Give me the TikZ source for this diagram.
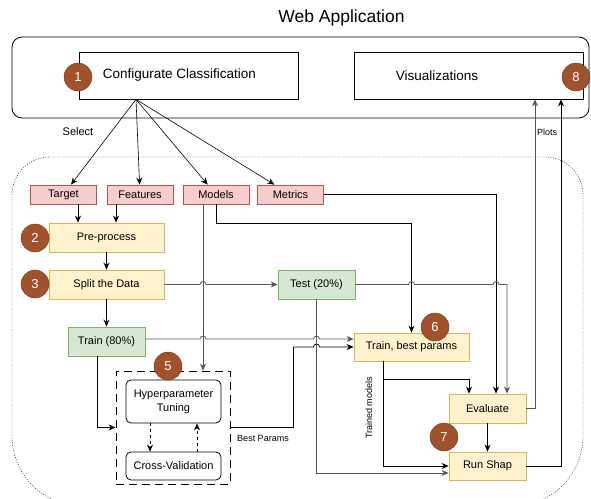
\documentclass[tikz,border=0pt]{standalone}
\usepackage{fontspec}
\setmainfont{Liberation Sans}
\usetikzlibrary{arrows.meta}

\definecolor{redfill}{HTML}{F8CECC}
\definecolor{redline}{HTML}{B85450}
\definecolor{yelfill}{HTML}{FFF2CC}
\definecolor{yelline}{HTML}{D6B656}
\definecolor{grnfill}{HTML}{D5E8D4}
\definecolor{grnline}{HTML}{82B366}
\definecolor{stepfill}{HTML}{A0522D}
\definecolor{stepline}{HTML}{7A3516}
\definecolor{wire}{HTML}{555555}

\newcommand{\fs}[2]{\fontsize{#1}{#2}\selectfont}

\tikzset{
  box/.style={draw, line width=0.8pt, inner sep=0pt, font=\fs{11}{14}},
  pick/.style={box, fill=redfill, draw=redline, minimum width=66pt, minimum height=19pt},
  task/.style={box, fill=yelfill, draw=yelline, minimum height=29pt},
  part/.style={box, fill=grnfill, draw=grnline, minimum width=77pt, minimum height=29pt},
  panel/.style={draw, line width=0.8pt, minimum width=229pt, minimum height=47pt, inner sep=0pt, font=\fs{13.5}{16}},
  badge/.style={circle, fill=stepfill, draw=stepline, minimum size=28pt, inner sep=0pt, text=white, font=\fs{13}{15}},
  link/.style={->, line width=0.8pt},
  glink/.style={link, draw=wire},
  tag/.style={font=\fs{9}{11}},
}

\begin{document}
\begin{tikzpicture}[x=1pt, y=-1pt, >={Stealth[length=7pt, width=6pt]}]
\useasboundingbox (0,0) rectangle (591,498);

% front end
\node[font=\fs{17.5}{20}] (title) at (341.5,18) {Web Application};
\draw[line width=0.8pt, rounded corners=10pt] (12,37) rectangle (589,118);
\node[panel, minimum width=219pt] (config) at (188.5,75.5) {\hspace*{-18pt}Configurate Classification};
\node[panel] (vis) at (468.5,75.5) {\hspace*{-63pt}Visualizations};

% back end
\draw[dash pattern=on 1pt off 1.5pt] (12,330) [rounded corners=38pt] |- (583,157) -- (583,330);
\draw[dash pattern=on 1pt off 1.5pt] (12,330) [rounded corners=70pt] |- (583,506) -- (583,330);

% user choices
\node[pick] (target) at (63.5,194.5) {Target};
\node[pick] (features) at (140,194.5) {Features};
\node[pick] (models) at (216,194.5) {Models};
\node[pick] (metrics) at (290.5,194.5) {Metrics};
\node[font=\fs{11}{13}] (select) at (78,132) {Select};
\coordinate (sel) at ([xshift=-52.5pt]config.south);
\foreach \n in {target,features,models,metrics}
  \draw[->, line width=0.6pt] (sel) -- (\n);

% pipeline steps
\node[task, minimum width=115pt] (pre) at (106.5,237.5) {Pre-process};
\node[task, minimum width=115pt] (split) at (106.5,284.5) {Split the Data};
\node[part] (train) at (106.5,341.5) {Train (80\%)};
\node[part] (test) at (316.5,284.5) {Test (20\%)};
\node[task, minimum width=115pt, minimum height=28pt] (tbp) at (411.5,347) {Train, best params};
\node[task, minimum width=77pt] (eval) at (487.5,408.5) {Evaluate};
\node[task, minimum width=77pt, minimum height=28pt] (shap) at (487.5,466) {Run Shap};

% tuning block
\node[draw, line width=0.8pt, dash pattern=on 8pt off 5pt, minimum width=114pt, minimum height=113pt] (tune) at (173,427.5) {};
\node[box, rounded corners=5pt, fill=white, minimum width=95pt, minimum height=43pt, align=center] (hpt) at (173.5,401.5) {Hyperparameter\\Tuning};
\node[box, rounded corners=5pt, fill=white, minimum width=95pt, minimum height=28pt] (cv) at (173.5,466) {Cross-Validation};
\draw[->, dashed, line width=0.6pt] ([xshift=-23.5pt]hpt.south) -- ([xshift=-23.5pt]hpt.south |- cv.north);
\draw[->, dashed, line width=0.6pt] ([xshift=23.5pt]cv.north) -- ([xshift=23.5pt]cv.north |- hpt.south);

% data flow
\draw[link] ([xshift=14.5pt]target.south) -- ([xshift=14.5pt]target.south |- pre.north);
\draw[link] ([xshift=-24pt]features.south) -- ([xshift=-24pt]features.south |- pre.north);
\draw[link, line width=1.3pt] (pre) -- (split);
\draw[link, line width=1.3pt] (split) -- (train);

\coordinate (mv) at ([xshift=-13pt]models.south);
\draw[glink] (mv) -- (mv |- tune.north);
\draw[link] (models.south) -- ++(0,19) -| (tbp.north);

\draw[glink] (split.east) -- ([xshift=-3pt]split.east -| mv) arc[start angle=180, end angle=0, radius=3pt] -- (test.west);

\coordinate (t0) at ([yshift=2.5pt]train.east);
\draw[glink] (t0) -- ([xshift=-3pt]t0 -| mv) arc[start angle=180, end angle=0, radius=3pt]
  -- ([xshift=-3pt]t0 -| test.south) arc[start angle=180, end angle=0, radius=3pt] -- (t0 -| tbp.west);
\draw[link] ([xshift=-9.5pt]train.south) |- (tune.west);

\coordinate (bp) at ([xshift=63pt]tune.east);
\draw[link] (tune.east) -- (bp) -- (bp |- tbp.west)
  -- ([xshift=-3pt]tbp.west -| test.south) arc[start angle=180, end angle=0, radius=3pt] -- (tbp.west);
\node[tag] (bestlbl) at (263,438) {Best Params};

\coordinate (mx) at ([xshift=8.5pt]eval.north);
\draw[link] (metrics.east) -| (mx);
\draw[glink] (test.east) -- ([xshift=-3pt]test.east -| tbp.north) arc[start angle=180, end angle=0, radius=3pt]
  -- ([xshift=-3pt]test.east -| mx) arc[start angle=180, end angle=0, radius=3pt] -| ([xshift=19.5pt]eval.north);
\draw[glink] (test.south) |- ([yshift=-7pt]shap.west);

\coordinate (tm) at ([xshift=-28.5pt]tbp.south);
\draw[link] (tm) |- ([xshift=-18.5pt, yshift=14pt]eval.north) -- ([xshift=-18.5pt]eval.north);
\draw[link] (tm) |- (shap.west);
\node[tag, rotate=90] (trained) at (369,408) {Trained models};
\draw[link] (eval) -- (shap);

% results back to the front end
\draw[glink] (eval.east) -| ([xshift=66.5pt]vis.south);
\draw[link] (shap.east) -| ([xshift=92.5pt]vis.south);
\node[tag] (plots) at (547,132) {Plots};

% step numbers
\node[badge] (n1) at (78,77) {1};
\node[badge] (n2) at (35,238) {2};
\node[badge] (n3) at (35,284) {3};
\node[badge] (n5) at (168,366) {5};
\node[badge] (n6) at (435,327) {6};
\node[badge] (n7) at (444,437) {7};
\node[badge] (n8) at (576,77) {8};
\end{tikzpicture}
\end{document}
